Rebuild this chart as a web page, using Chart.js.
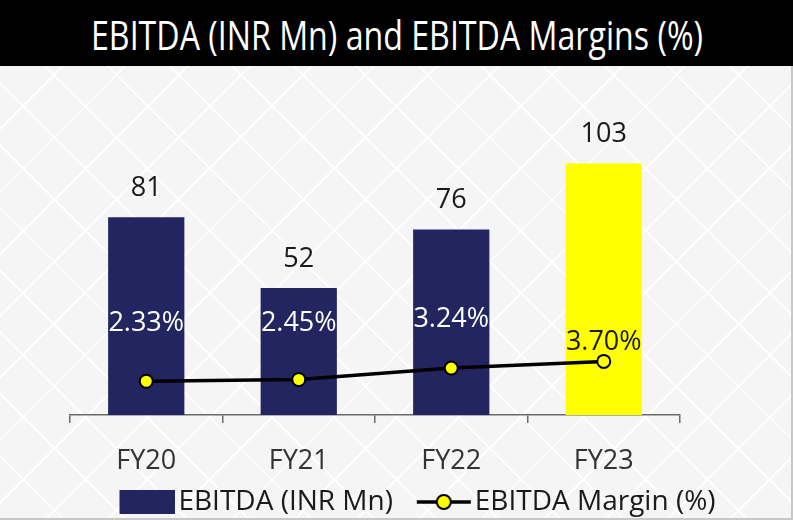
<!DOCTYPE html>
<html><head><meta charset="utf-8">
<script src="https://cdn.jsdelivr.net/npm/chart.js@4.4.1/dist/chart.umd.min.js"></script>
<style>
html,body{margin:0;padding:0;}
body{width:793px;height:520px;overflow:hidden;position:relative;background-color:#f5f5f5;
background-image:
 repeating-linear-gradient(45deg, rgba(255,255,255,0.9) 0 2px, rgba(255,255,255,0) 2px 44px),
 repeating-linear-gradient(-45deg, rgba(255,255,255,0.9) 0 2px, rgba(255,255,255,0) 2px 44px);}
#title{position:absolute;left:0;top:0;width:793px;height:66px;background:#000;overflow:hidden;}
#title span{position:absolute;left:50%;top:35px;color:#fff;font-family:'Open Sans',sans-serif;font-size:40px;line-height:1;white-space:nowrap;transform-origin:center center;}
#wrap{position:absolute;left:0;top:66px;width:791px;height:460px;}
#br{position:absolute;left:791px;top:66px;width:2px;height:454px;background:#c8c8c8;}
#bb{position:absolute;left:0;top:518px;width:793px;height:2px;background:#c8c8c8;}
</style></head>
<body>
<div id="title"><span id="tt">EBITDA (INR Mn) and EBITDA Margins (%)</span></div>
<div id="wrap"><canvas id="c" width="791" height="460"></canvas></div>
<div id="br"></div><div id="bb"></div>
<script>
const categories = ['FY20', 'FY21', 'FY22', 'FY23'];
const ebitda = [81, 52, 76, 103];
const margin = [2.33, 2.45, 3.24, 3.70];
const marginLabels = ['2.33%', '2.45%', '3.24%', '3.70%'];
const barColors = ['#232560', '#232560', '#232560', '#FFFF00'];
const marginLabelColors = ['#ffffff', '#ffffff', '#ffffff', '#1a1a1a'];
const marginLabelOffsets = [58, 56, 49, 19];
const seriesNames = ['EBITDA (INR Mn)', 'EBITDA Margin (%)'];

const FONT = "'Open Sans', sans-serif";

// fit title width to the reference span (~612px)
(function () {
  const s = document.getElementById('tt');
  const w = s.getBoundingClientRect().width;
  const k = 612 / w;
  s.style.transform = 'translate(-50%,-50%) scaleX(' + k + ')';
})();

function barIcon() {
  const c = document.createElement('canvas');
  c.width = 62; c.height = 24;
  const x = c.getContext('2d');
  x.fillStyle = '#232560';
  x.fillRect(6, 0, 56, 24);
  return c;
}
function lineIcon() {
  const c = document.createElement('canvas');
  c.width = 62; c.height = 20;
  const x = c.getContext('2d');
  x.strokeStyle = '#000'; x.lineWidth = 3.5;
  x.beginPath(); x.moveTo(7, 10); x.lineTo(61, 10); x.stroke();
  x.beginPath(); x.arc(34, 10, 7, 0, Math.PI * 2);
  x.fillStyle = '#FFFF00'; x.fill();
  x.lineWidth = 2; x.stroke();
  return c;
}
const icons = [barIcon(), lineIcon()];

const labelPlugin = {
  id: 'valueLabels',
  afterDatasetsDraw(chart) {
    const ctx = chart.ctx;
    ctx.save();
    ctx.textAlign = 'center';
    ctx.textBaseline = 'middle';
    ctx.font = "27px " + FONT;
    const barMeta = chart.getDatasetMeta(1);
    barMeta.data.forEach((el, i) => {
      ctx.fillStyle = '#1a1a1a';
      ctx.fillText(String(ebitda[i]), el.x, el.y - 29);
    });
    const lineMeta = chart.getDatasetMeta(0);
    lineMeta.data.forEach((el, i) => {
      ctx.fillStyle = marginLabelColors[i];
      ctx.fillText(marginLabels[i], el.x, el.y - marginLabelOffsets[i]);
    });
    ctx.restore();
  }
};

const hiddenAxis = (w, pos, max) => ({
  display: true, position: pos, min: 0, max: max,
  grid: { display: false, drawTicks: false }, border: { display: false },
  ticks: { display: false },
  afterFit(scale) { scale.width = w; }
});

new Chart(document.getElementById('c'), {
  type: 'bar',
  data: {
    labels: categories,
    datasets: [
      {
        type: 'line', label: seriesNames[1], data: margin, yAxisID: 'y1',
        borderColor: '#000', borderWidth: 3.5, tension: 0,
        pointRadius: 6.5, pointBackgroundColor: '#FFFF00', pointBorderColor: '#000', pointBorderWidth: 2
      },
      {
        type: 'bar', label: seriesNames[0], data: ebitda, yAxisID: 'y',
        backgroundColor: barColors, barPercentage: 0.5, categoryPercentage: 1
      }
    ]
  },
  options: {
    responsive: false,
    animation: false,
    layout: { padding: { left: 49, right: 0, top: 3, bottom: 0 } },
    plugins: {
      tooltip: { enabled: false },
      title: { display: false },
      legend: {
        position: 'bottom',
        labels: {
          usePointStyle: true,
          pointStyleWidth: 40,
          boxHeight: 24,
          padding: 6,
          color: '#1a1a1a',
          font: { size: 28, family: FONT, lineHeight: 1 },
          generateLabels() {
            return [0, 1].map(k => ({
              text: k === 0 ? seriesNames[k] + '\u00a0\u00a0\u00a0' : seriesNames[k],
              pointStyle: icons[k],
              fillStyle: 'transparent',
              strokeStyle: 'transparent',
              lineWidth: 0,
              hidden: false,
              datasetIndex: 1 - k,
              fontColor: '#1a1a1a'
            }));
          }
        }
      }
    },
    scales: {
      x: {
        grid: { offset: true, drawOnChartArea: false, drawTicks: true, tickLength: 8, color: '#6a6a6a', lineWidth: 1.5 },
        border: { display: true, color: '#6a6a6a', width: 1.5 },
        ticks: { color: '#333333', font: { size: 27, family: FONT, lineHeight: 1 }, padding: 25 },
        afterFit(scale) { scale.height = 67; }
      },
      y: hiddenAxis(21, 'left', 139.5),
      y1: hiddenAxis(111, 'right', 23.5)
    }
  },
  plugins: [labelPlugin]
});
</script>
</body></html>
